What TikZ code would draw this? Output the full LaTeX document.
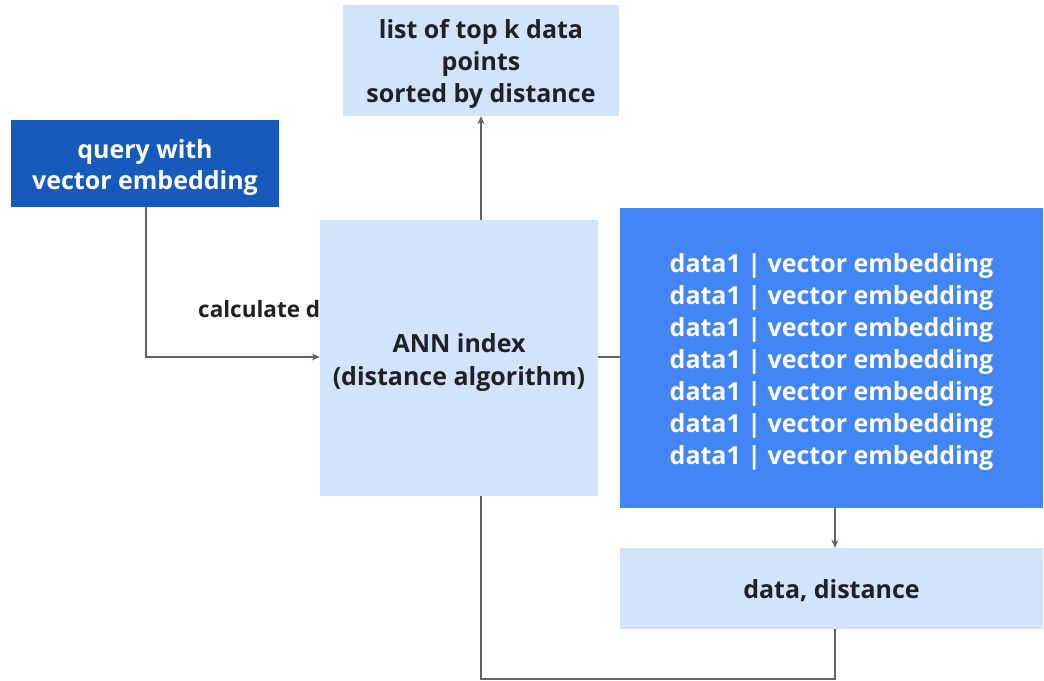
\documentclass[tikz,border=0pt]{standalone}
\usepackage{fontspec}
\setmainfont{Open Sans}
\usetikzlibrary{arrows.meta}
\definecolor{paleblue}{HTML}{D2E3FC}
\definecolor{deepblue}{HTML}{185ABC}
\definecolor{brightblue}{HTML}{4285F4}
\definecolor{inkdark}{HTML}{202124}
\definecolor{wiregray}{HTML}{5F6368}
% taller first line, so that the text block sits a little lower in its box
\newcommand\liftline[1]{\rule{0pt}{#1}}
\tikzset{
  box/.style={inner sep=0pt, align=center, font=\fontsize{25}{32}\selectfont\bfseries},
  palebox/.style={box, fill=paleblue, text=inkdark},
  darkbox/.style={box, fill=deepblue, text=white},
  brightbox/.style={box, fill=brightblue, text=white},
  wire/.style={draw=wiregray, line width=1.5pt},
  arrow/.style={wire, -{Stealth[length=8pt,width=7pt]}},
  tag/.style={inner sep=0pt, text=inkdark, font=\fontsize{22.5}{24}\selectfont\bfseries}
}
\begin{document}
\begin{tikzpicture}[x=1pt,y=-1pt]
\useasboundingbox (0,0) rectangle (1044,680);
% label left of the index box
\node[tag, anchor=base west] (calc) at (198,317) {calculate d};
% boxes
\node[palebox, minimum width=276pt, minimum height=111pt] (topk) at (481,60.5)
  {\liftline{27pt}list of top k data\\points\\sorted by distance};
\node[darkbox, minimum width=268pt, minimum height=87pt] (query) at (145,163.5)
  {\liftline{27pt}query with\\vector embedding};
\node[palebox, minimum width=278pt, minimum height=276pt] (ann) at (459,358)
  {\liftline{27pt}ANN index\\[1pt](distance algorithm)};
\node[brightbox, minimum width=423pt, minimum height=300pt, align=left] (data) at (831.5,358)
  {\liftline{27pt}data1 | vector embedding\\data1 | vector embedding\\data1 | vector embedding\\data1 | vector embedding\\data1 | vector embedding\\data1 | vector embedding\\data1 | vector embedding};
\node[palebox, minimum width=423pt, minimum height=81pt] (dist) at (831.5,588.5)
  {\liftline{23pt}data, distance};
% connectors
\coordinate (bendq) at (146,357);
\coordinate (lowl) at (481,679);
\coordinate (lowr) at (835,679);
\draw[arrow] (query.south -| bendq) -- (bendq) -- (ann.west |- bendq);
\draw[arrow] (ann.north -| lowl) -- (topk.south -| lowl);
\draw[wire] (ann.east |- bendq) -- (data.west |- bendq);
\draw[arrow] (data.south -| lowr) -- (dist.north -| lowr);
\draw[wire] (dist.south -| lowr) -- (lowr) -- (lowl) -- (ann.south -| lowl);
\end{tikzpicture}
\end{document}
